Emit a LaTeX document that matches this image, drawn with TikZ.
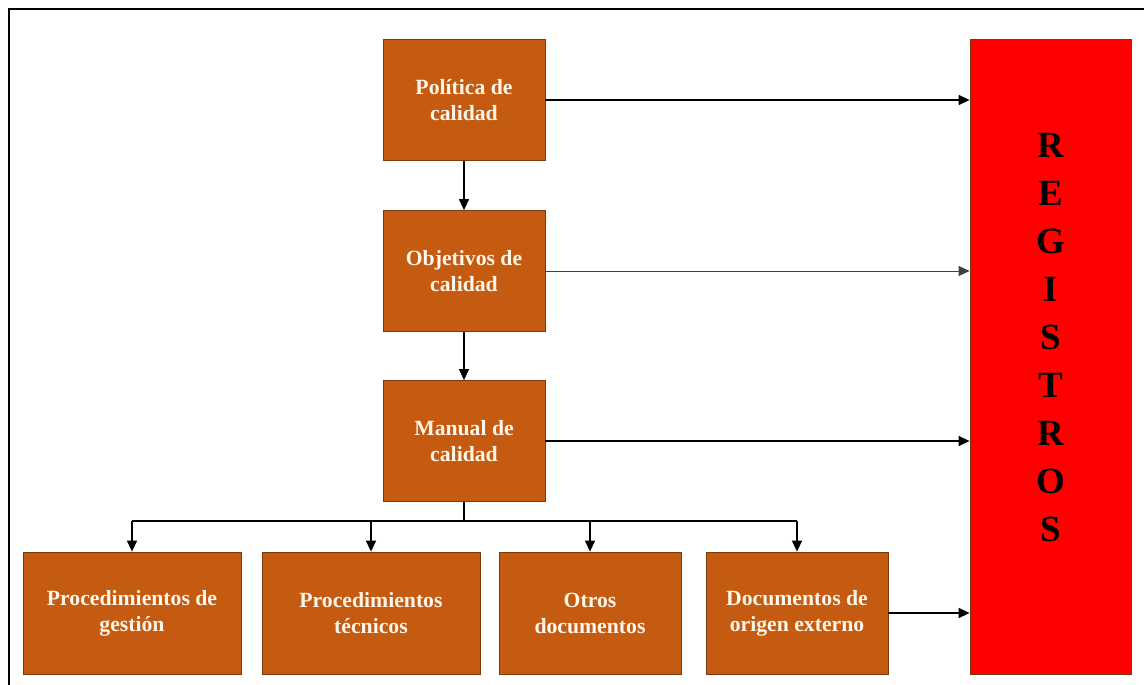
\documentclass[tikz,border=0pt]{standalone}
\usepackage{fontspec}
\setmainfont{Liberation Serif}
\usetikzlibrary{arrows.meta}
\definecolor{docfill}{HTML}{C55A11}
\definecolor{docedge}{HTML}{7A3A0E}
\definecolor{doctext}{HTML}{FFF6EA}
\definecolor{regfill}{HTML}{FF0000}
\begin{document}
\begin{tikzpicture}[
 x=1pt,y=-1pt,
 line/.style={line width=1.3pt},
 arrow/.style={line,-{Triangle[length=11pt,width=10pt]}},
 doc/.style={draw=docedge,line width=.8pt,fill=docfill,text=doctext,align=center,
   font=\fontsize{21.7}{26}\selectfont\bfseries,inner sep=0pt},
 topdoc/.style={doc,minimum width=162pt,minimum height=121pt},
 widedoc/.style={doc,minimum width=218pt,minimum height=122pt},
 slimdoc/.style={doc,minimum width=182pt,minimum height=122pt},
 frame/.style={line width=2pt}]
 \useasboundingbox (0,0) rectangle (1144,685);
 \draw[frame] (9,9) rectangle (1170,710);
 % Main chain of documents.
 \node[topdoc] (pol) at (464,100) {Política de\\calidad};
 \node[topdoc] (obj) at (464,271) {Objetivos de\\calidad};
 \node[topdoc] (man) at (464,441) {Manual de\\calidad};
 \draw[arrow] (pol) -- (obj);
 \draw[arrow] (obj) -- (man);
 % Lower row of documents.
 \node[widedoc] (pg) at (132,613) {Procedimientos de\\gestión};
 \node[widedoc] (pt) at (371,613) {Procedimientos\\técnicos};
 \node[slimdoc] (od) at (590,613) {Otros\\documentos};
 \node[slimdoc] (de) at (797,613) {Documentos de\\origen externo};
 \coordinate (bus) at (464,521);
 \draw[line] (man) -- (bus);
 \draw[line] (bus -| pg) -- (bus -| de);
 \foreach \b in {pg,pt,od,de}{\draw[arrow] (bus -| \b) -- (\b);}
 % Records column.
 \node[draw=docedge,line width=.8pt,fill=regfill,minimum width=161pt,
   minimum height=635pt,inner sep=0pt] (reg) at (1050.5,356.5) {};
 \node[font=\fontsize{37}{48}\selectfont\bfseries,align=center,inner sep=0pt]
   (regtxt) at (1050.5,338) {R\\E\\G\\I\\S\\T\\R\\O\\S};
 \foreach \b in {pol,man,de}{\draw[arrow] (\b.east) -- (\b.east -| reg.west);}
 \draw[arrow,line width=.9pt,black!75] (obj.east) -- (obj.east -| reg.west);
\end{tikzpicture}
\end{document}
